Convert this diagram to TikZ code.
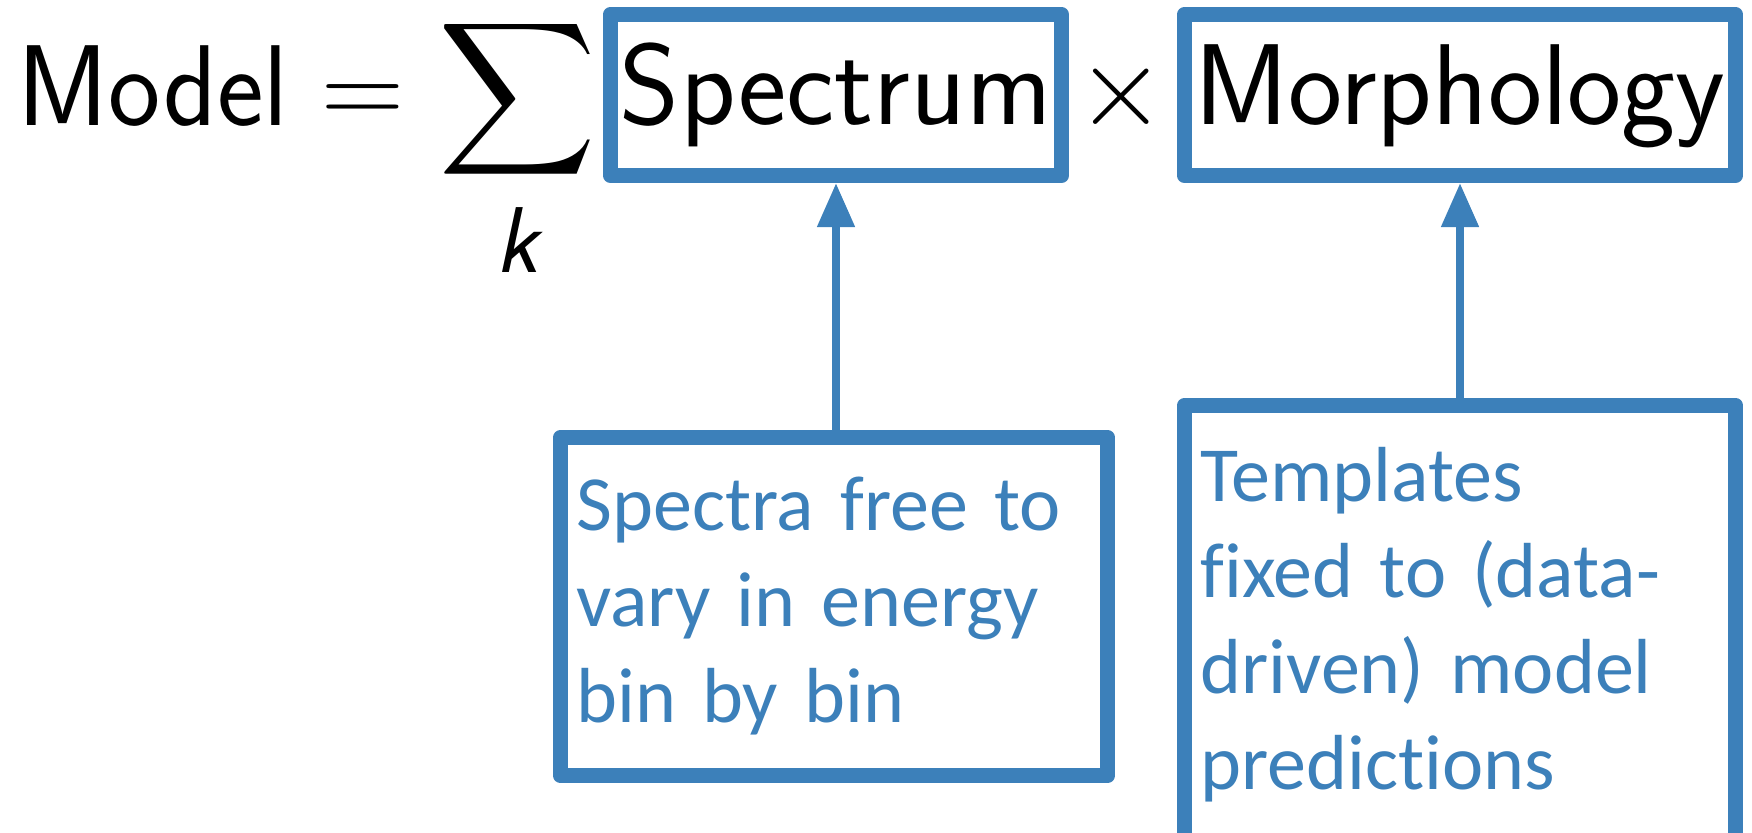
\RequirePackage{fix-cm}
\documentclass[tikz,border=0pt]{standalone}
\usepackage{graphicx}
\usepackage{fontspec}
\usetikzlibrary{arrows.meta}
\newfontfamily\notefont[Ligatures=NoCommon]{Carlito}
\definecolor{fitblue}{RGB}{60,128,186}

\begin{document}
\begin{tikzpicture}[x=0.01cm, y=-0.01cm,
        big/.style={inner sep=0pt, font=\sffamily\fontsize{32.7}{40}\selectfont},
        box/.style={big, draw=fitblue, line width=0.15cm, line join=round,
            text height=0.8cm, text depth=0.22cm, minimum height=1.61cm},
        note/.style={draw=fitblue, line width=0.15cm, line join=round, text=fitblue,
            inner xsep=0.16cm, inner ysep=0pt, align=left,
            font=\notefont\fontsize{22.2}{27.3}\selectfont},
        link/.style={draw=fitblue, line width=0.08cm,
            -{Triangle[length=0.44cm, width=0.36cm]}}]
    \useasboundingbox (0,0) rectangle (1752,832);
    % top line: Model = sum_k Spectrum x Morphology
    \node[big, anchor=base west] (model) at (17,125) {\scalebox{0.965}[1]{Model}};
    \node[big, anchor=base] (eq)    at (363,125) {$=$};
    \node[inner sep=0pt] (sum) at (518,99) {\resizebox*{1.58cm}{1.71cm}{$\displaystyle\sum$}};
    \node[inner sep=0pt, anchor=base, font=\sffamily\itshape\fontsize{26.6}{30}\selectfont]
        (k) at (517,272) {k};
    \node[box, minimum width=4.51cm] (spec)  at (836,95)  {Spectrum};
    \node[big, anchor=base] (times) at (1121,125) {$\times$};
    \node[box, minimum width=5.51cm] (morph) at (1460,95) {Morphology};
    % notes below
    \node[note, text width=5.15cm, minimum height=3.38cm] (specnote) at (834,606.5)
        {Spectra free to\\vary in energy\\bin by bin};
    \node[note, text width=5.19cm, minimum height=4.38cm] (morphnote) at (1460,624.5)
        {Templates\\fixed to (data-\\driven) model\\predictions};
    \draw[link] (specnote.north -| spec.south) -- (spec.south);
    \draw[link] (morphnote.north) -- (morph.south);
\end{tikzpicture}
\end{document}
